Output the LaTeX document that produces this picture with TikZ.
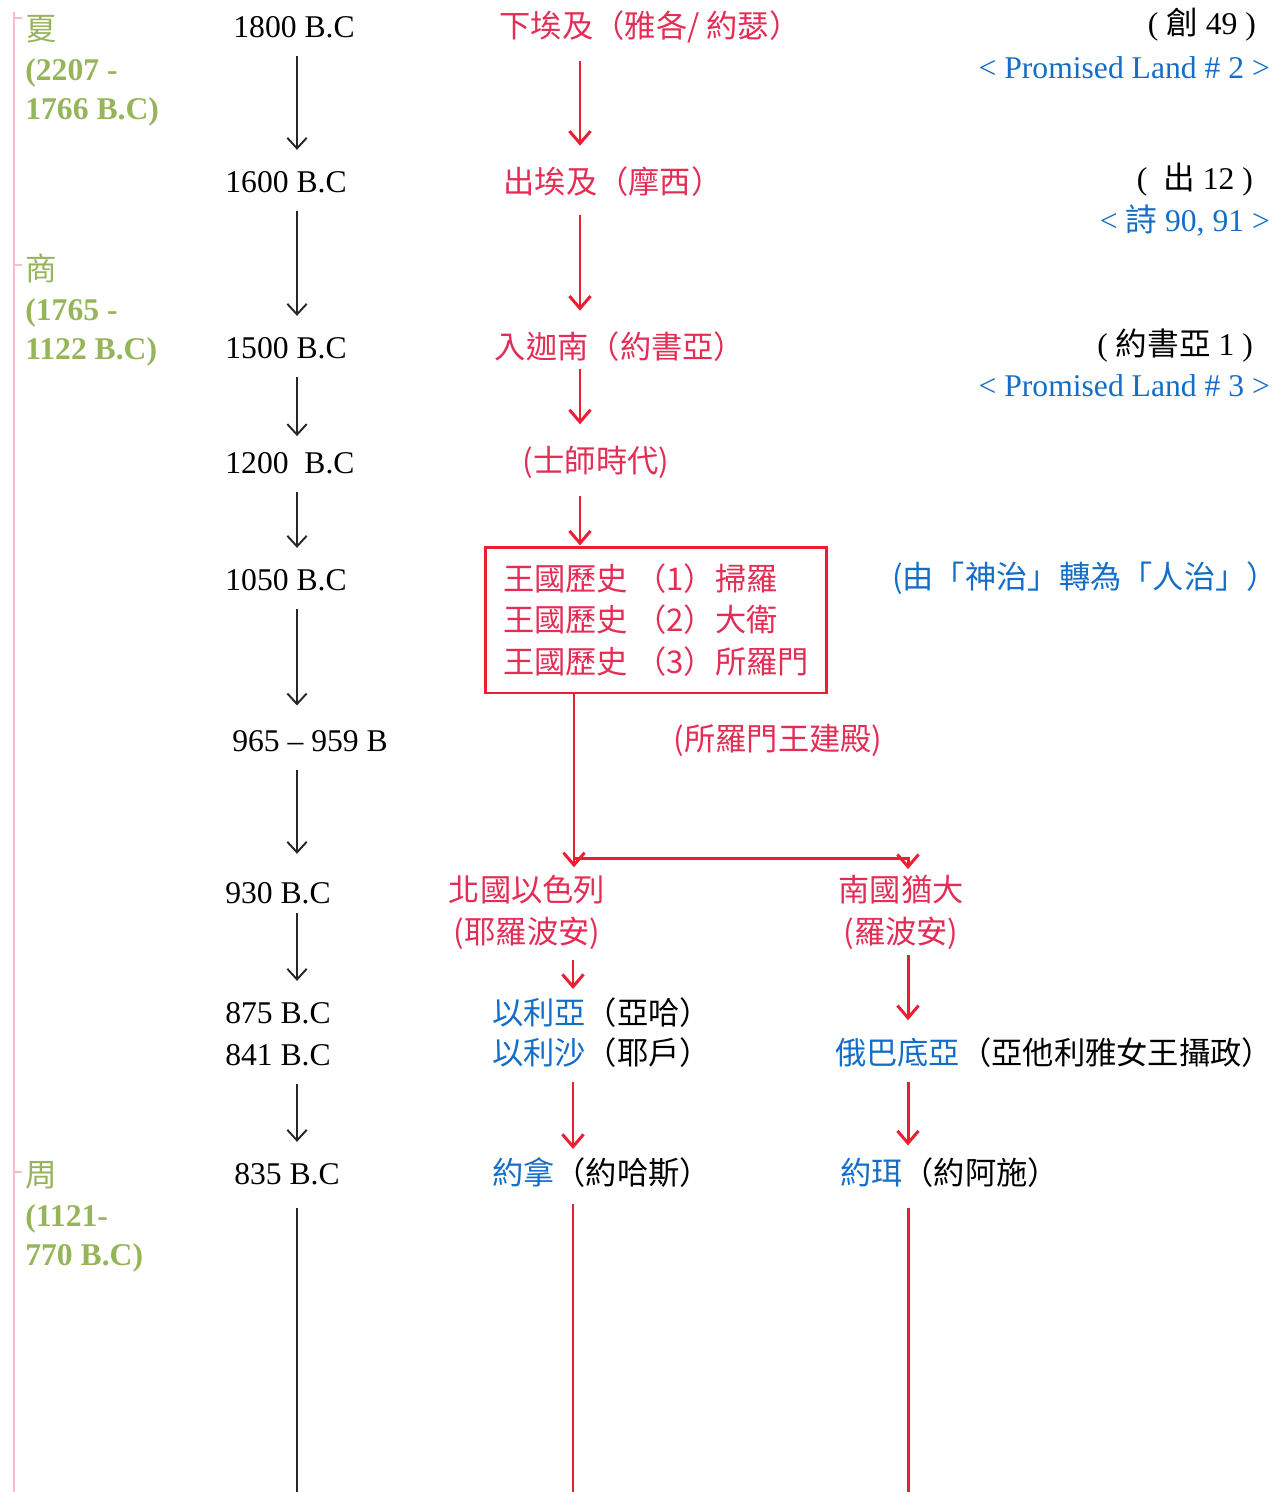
\documentclass[tikz,border=0pt]{standalone}
\usepackage{fontspec}
\setmainfont{Liberation Serif}
\newfontfamily\zhfont{Noto Sans CJK TC}
\usetikzlibrary{arrows.meta,calc}
\definecolor{dyngreen}{RGB}{150,180,90}
\definecolor{evred}{RGB}{228,45,85}
\definecolor{arrred}{RGB}{235,30,50}
\definecolor{refblue}{RGB}{20,110,200}
\definecolor{bracketpink}{RGB}{245,190,200}

\begin{document}
\begin{tikzpicture}[x=0.02cm, y=-0.02cm,
    yr/.style={font=\fontsize{18}{22}\selectfont, inner sep=1pt},
    ev/.style={text=evred, font=\zhfont\fontsize{17.8}{24}\selectfont, inner sep=1pt},
    who/.style={font=\zhfont\fontsize{17.8}{24}\selectfont, inner sep=1pt, anchor=west},
    ref/.style={font=\fontsize{18}{22}\selectfont, inner sep=1pt, anchor=east},
    dyn/.style={text=dyngreen, font=\bfseries\fontsize{18}{22.5}\selectfont, align=left, anchor=west, inner sep=0pt},
    blk/.style={draw=black!85, line width=1.1pt, -{Straight Barb[length=6pt,width=11pt]},
      shorten <=9pt, shorten >=11pt},
    redarr/.style={draw=arrred, line width=1.7pt, -{Straight Barb[length=7pt,width=12pt]},
      shorten <=9pt, shorten >=11pt},
    redln/.style={draw=arrred, line width=1.7pt},
  ]
  \useasboundingbox (0,0) rectangle (1285,1492);

  % columns of the connectors
  \coordinate (ax) at (297,0);
  \coordinate (rA) at (580,0);
  \coordinate (rB) at (573,0);
  \coordinate (rC) at (908,0);
  \coordinate (bot) at (0,1492);

  % dynasties
  \draw[bracketpink, line width=0.8pt] (14,12) -- (14,1492);
  \foreach \ty in {18,265,1172}
    \draw[bracketpink, line width=0.8pt] (14,\ty) -- (22,\ty);
  \node[dyn] (xia) at (25,71) {{\zhfont\mdseries 夏}\\(2207 -\\1766 B.C)};
  \node[dyn] (shang) at (25,310) {{\zhfont\mdseries 商}\\(1765 -\\1122 B.C)};
  \node[dyn] (zhou) at (25,1217) {{\zhfont\mdseries 周}\\(1121-\\770 B.C)};

  % years
  \node[yr] (y1800) at (294,27) {1800 B.C};
  \node[yr] (y1600) at (286,182) {1600 B.C};
  \node[yr] (y1500) at (286,348) {1500 B.C};
  \node[yr] (y1200) at (290,463) {1200~ B.C};
  \node[yr] (y1050) at (286,580) {1050 B.C};
  \node[yr] (y965) at (310,741) {965 -- 959 B};
  \node[yr] (y930) at (278,893) {930 B.C};
  \node[yr] (y875) at (278,1013) {875 B.C};
  \node[yr] (y841) at (278,1055) {841 B.C};
  \node[yr] (y835) at (287,1174) {835 B.C};

  \path (y1800.south -| ax) edge[blk] (y1600.north -| ax);
  \path (y1600.south -| ax) edge[blk] (y1500.north -| ax);
  \path (y1500.south -| ax) edge[blk, shorten >=8pt] (y1200.north -| ax);
  \path (y1200.south -| ax) edge[blk] (y1050.north -| ax);
  \path (y1050.south -| ax) edge[blk, shorten >=13pt] (y965.north -| ax);
  \path (y965.south -| ax) edge[blk, shorten >=15pt] (y930.north -| ax);
  \path (y930.south -| ax) edge[blk, shorten <=4pt] (y875.north -| ax);
  \path (y841.south -| ax) edge[blk] (y835.north -| ax);
  \draw[black!85, line width=1.1pt, shorten <=12pt] (y835.south -| ax) -- (bot -| ax);

  % events
  \node[ev] (egypt) at (650,27) {下埃及（雅各/ 約瑟）};
  \node[ev] (exodus) at (613,182) {出埃及（摩西）};
  \node[ev] (canaan) at (620,347) {入迦南（約書亞）};
  \node[ev] (judges) at (596,462) {(士師時代)};
  \node[ev, draw=arrred, line width=1.7pt, minimum width=6.84cm, minimum height=2.92cm,
    align=left, font=\zhfont\fontsize{17.8}{23.5}\selectfont] (kingdom) at (656,620)
    {王國歷史 （1）掃羅\\王國歷史 （2）大衛\\王國歷史 （3）所羅門};
  \node[ev] (temple) at (778,740) {(所羅門王建殿)};
  \node[ev, align=center] (israel) at (527,912) {北國以色列\\(耶羅波安)};
  \node[ev, align=center] (judah) at (901,912) {南國猶大\\(羅波安)};

  \path (egypt.south -| rA) edge[redarr] (exodus.north -| rA);
  \path (exodus.south -| rA) edge[redarr] (canaan.north -| rA);
  \path (canaan.south -| rA) edge[redarr, shorten <=3pt] (judges.north -| rA);
  \path (judges.south -| rA) edge[redarr, shorten >=0pt] (kingdom.north -| rA);

  \coordinate (split) at (574,858);
  \draw[redln] (kingdom.south -| split) -- (split);
  \draw[redarr, shorten <=0pt, shorten >=3pt] (split) -- (israel.north -| split);
  \draw[redarr, shorten <=0pt, shorten >=2pt] (split) -| (judah.north -| rC);

  % prophets and kings
  \node[who] (elijah) at (490,1013) {\textcolor{refblue}{以利亞}（亞哈）};
  \node[who] (elisha) at (490,1053) {\textcolor{refblue}{以利沙}（耶戶）};
  \node[who] (jonah) at (490,1173) {\textcolor{refblue}{約拿}（約哈斯）};
  \node[who] (obadiah) at (833,1053) {\textcolor{refblue}{俄巴底亞}（亞他利雅女王攝政）};
  \node[who] (joel) at (838,1173) {\textcolor{refblue}{約珥}（約阿施）};

  \path (israel.south -| rB) edge[redarr, shorten <=5pt, shorten >=4pt] (elijah.north -| rB);
  \path (elisha.south -| rB) edge[redarr, shorten <=7pt, shorten >=4pt] (jonah.north -| rB);
  \draw[redln, shorten <=8pt] (jonah.south -| rB) -- (bot -| rB);
  \path (judah.south -| rC) edge[redarr, shorten <=2pt, shorten >=9pt] (obadiah.north -| rC);
  \path (obadiah.south -| rC) edge[redarr, shorten <=7pt, shorten >=6pt] (joel.north -| rC);
  \draw[redln, shorten <=10pt] (joel.south -| rC) -- (bot -| rC);

  % references
  \node[ref] (gen) at (1258,25) {( {\zhfont 創} 49 )};
  \node[ref, text=refblue] (pl2) at (1272,68) {< Promised Land \# 2 >};
  \node[ref] (ex12) at (1255,180) {(~ {\zhfont 出} 12 )};
  \node[ref, text=refblue] (ps) at (1272,221) {< {\zhfont 詩} 90, 91 >};
  \node[ref] (josh) at (1255,346) {( {\zhfont 約書亞} 1 )};
  \node[ref, text=refblue] (pl3) at (1272,386) {< Promised Land \# 3 >};
  \node[ev, text=refblue] (rule) at (1085,578) {(由「神治」轉為「人治」）};
\end{tikzpicture}
\end{document}
